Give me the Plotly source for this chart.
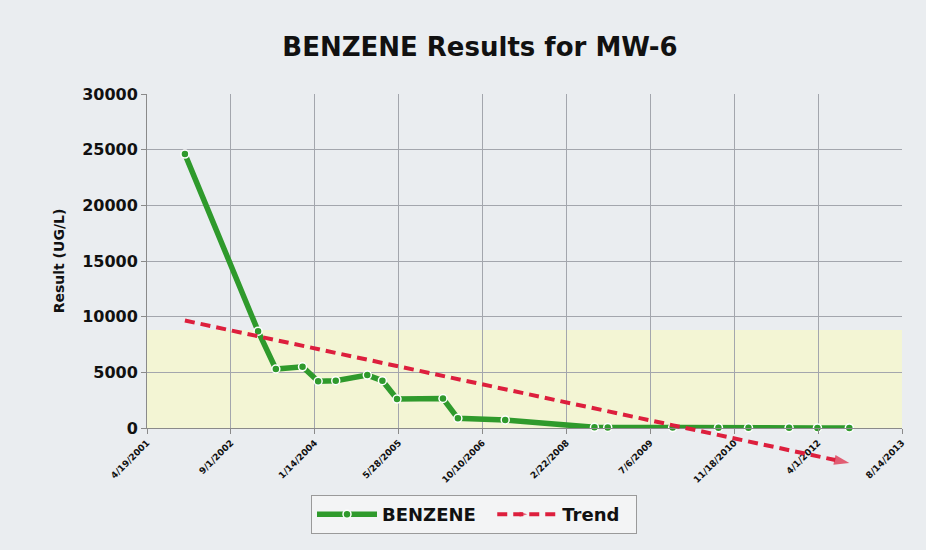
import plotly.graph_objects as go

# ---- data ----
dates = ["2001-12-01", "2003-02-10", "2003-05-27", "2003-11-02", "2004-02-03",
         "2004-05-18", "2004-11-22", "2005-02-20", "2005-05-18", "2006-02-16",
         "2006-05-16", "2007-02-22", "2008-08-07", "2008-10-25", "2009-11-16",
         "2010-08-16", "2011-02-11", "2011-10-11", "2012-03-28", "2012-10-04"]
benzene = [24600, 8700, 5300, 5500, 4200, 4250, 4750, 4250, 2600, 2650,
           870, 720, 60, 50, 40, 30, 20, 15, 10, 10]

trend_dates = ["2001-12-01", "2012-10-04"]
trend_values = [9650, -3150]

tick_dates = ["2001-04-19", "2002-09-01", "2004-01-14", "2005-05-28", "2006-10-10",
              "2008-02-22", "2009-07-06", "2010-11-18", "2012-04-01", "2013-08-14"]
tick_labels = ["4/19/2001", "9/1/2002", "1/14/2004", "5/28/2005", "10/10/2006",
               "2/22/2008", "7/6/2009", "11/18/2010", "4/1/2012", "8/14/2013"]
y_ticks = [0, 5000, 10000, 15000, 20000, 25000, 30000]

# ---- geometry ----
W, H = 926, 550
ml, mr, mt = 147, 24, 94
zero_px = 428          # pixel of y=0
bottom_px = 474        # extended plot bottom (for trend going below 0)
mb = H - bottom_px
plot_h = bottom_px - mt
main_frac = (bottom_px - zero_px) / plot_h
ymax = 30000
px_per_unit = (zero_px - mt) / ymax
y2_min = -(bottom_px - zero_px) / px_per_unit

green = "#2f9a2c"
red = "#dd1f3d"
bg = "#eaedf0"
font_fam = "DejaVu Sans, Liberation Sans, sans-serif"

fig = go.Figure()

fig.add_trace(go.Scatter(
    x=dates, y=benzene, name="<b>BENZENE</b>  ", mode="lines+markers",
    line=dict(color=green, width=5.5),
    marker=dict(symbol="circle", size=8, color=green, line=dict(color="white", width=1.5)),
    xaxis="x", yaxis="y", cliponaxis=False,
))

fig.add_trace(go.Scatter(
    x=trend_dates, y=trend_values, name="<b>Trend</b>  ", mode="lines+markers",
    line=dict(color=red, width=4, dash="10px,6px"),
    marker=dict(symbol="arrow", angleref="previous", size=[0, 16], color=red,
                line=dict(width=0)),
    xaxis="x2", yaxis="y2", cliponaxis=False,
))

xrange = [tick_dates[0], tick_dates[-1]]

fig.update_layout(
    width=W, height=H,
    margin=dict(l=ml, r=mr, t=mt, b=mb, autoexpand=False),
    paper_bgcolor=bg,
    plot_bgcolor="rgba(0,0,0,0)",
    font=dict(family=font_fam, color="#111"),
    title=dict(text="<b>BENZENE Results for MW-6</b>", x=480 / W, xref="container",
               xanchor="center", y=1 - 47 / H, yref="container", yanchor="middle",
               font=dict(size=26, color="#111")),
    showlegend=True,
    legend=dict(orientation="h", x=(474 - ml) / (W - ml - mr), xanchor="center",
                y=(bottom_px - 495) / plot_h, yanchor="top",
                bgcolor="#f3f4f5", bordercolor="#9a9a9a", borderwidth=1,
                font=dict(size=18, color="#111"), itemwidth=60,
                tracegroupgap=0),
    xaxis=dict(
        type="date", range=xrange, anchor="y",
        tickmode="array", tickvals=tick_dates,
        ticktext=["<b>%s</b>" % t for t in tick_labels],
        tickangle=-45, tickfont=dict(size=9, color="#111", family=font_fam),
        ticks="outside", ticklen=5, tickcolor="#8a8a8a",
        showgrid=True, gridcolor="#a3a6ad", gridwidth=1,
        showline=True, linecolor="#8a8a8a", linewidth=1,
        zeroline=False,
    ),
    yaxis=dict(
        domain=[main_frac, 1], range=[0, ymax], anchor="x",
        tickmode="array", tickvals=y_ticks,
        ticktext=["<b>%d</b>" % v for v in y_ticks],
        tickfont=dict(size=16, color="#111", family=font_fam),
        ticks="outside", ticklen=5, tickcolor="#8a8a8a",
        showgrid=True, gridcolor="#a3a6ad", gridwidth=1,
        showline=True, linecolor="#8a8a8a", linewidth=1, zeroline=False,
        title=dict(text="<b>Result (UG/L)</b>", font=dict(size=14, color="#111"), standoff=14),
    ),
    xaxis2=dict(type="date", range=xrange, overlaying="x", anchor="y2", visible=False),
    yaxis2=dict(domain=[0, 1], range=[y2_min, ymax], anchor="x2", visible=False),
    shapes=[dict(type="rect", xref="x", yref="y", x0=tick_dates[0], x1=tick_dates[-1],
                 y0=0, y1=8800, fillcolor="#f3f5d4", line=dict(width=0), layer="below")],
)

fig.write_html("out.html", config={"displayModeBar": False},
               post_script="document.body.style.margin='0';document.body.style.background='%s';" % bg)
